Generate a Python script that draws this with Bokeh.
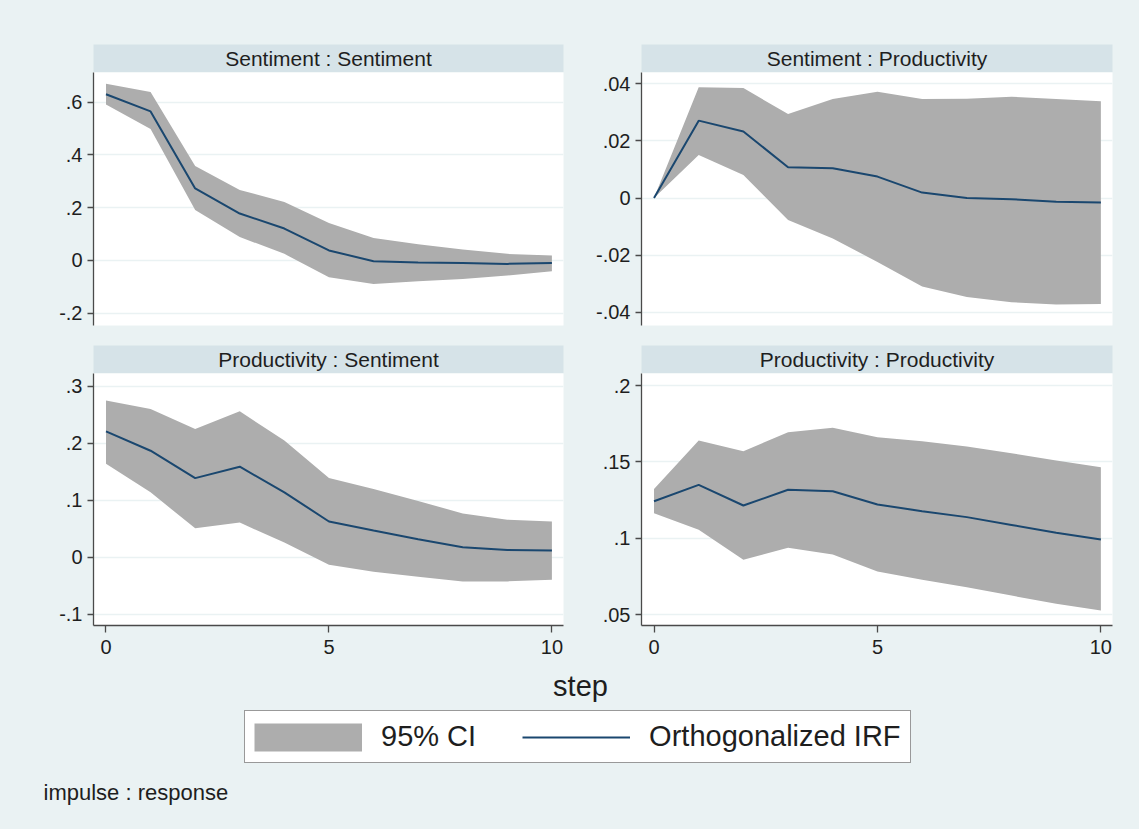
from bokeh.plotting import figure
from bokeh.layouts import column, row
from bokeh.models import (Range1d, FixedTicker, CustomJSTickFormatter, Label,
                          Legend, LegendItem)
from bokeh.embed import file_html
from bokeh.resources import INLINE

# ---------------- data ----------------
steps = [0, 1, 2, 3, 4, 5, 6, 7, 8, 9, 10]

ss_irf = [0.630, 0.565, 0.273, 0.178, 0.121, 0.038, -0.003, -0.008, -0.010, -0.013, -0.010]
ss_hi = [0.670, 0.639, 0.358, 0.267, 0.222, 0.142, 0.085, 0.061, 0.042, 0.025, 0.019]
ss_lo = [0.591, 0.498, 0.191, 0.089, 0.025, -0.064, -0.089, -0.079, -0.070, -0.057, -0.041]

sp_irf = [0.0, 0.0271, 0.0233, 0.0108, 0.0104, 0.0075, 0.0019, 0.0000, -0.0004, -0.0013, -0.0016]
sp_hi = [0.0, 0.0388, 0.0385, 0.0294, 0.0347, 0.0372, 0.0347, 0.0348, 0.0355, 0.0347, 0.0339]
sp_lo = [0.0, 0.0151, 0.0081, -0.0077, -0.0142, -0.0224, -0.0310, -0.0347, -0.0365, -0.0373, -0.0371]

ps_irf = [0.221, 0.187, 0.139, 0.159, 0.114, 0.063, 0.047, 0.032, 0.018, 0.013, 0.012]
ps_hi = [0.275, 0.260, 0.225, 0.256, 0.205, 0.139, 0.120, 0.099, 0.077, 0.066, 0.063]
ps_lo = [0.164, 0.114, 0.051, 0.061, 0.026, -0.013, -0.025, -0.034, -0.042, -0.042, -0.039]

pp_irf = [0.1242, 0.1349, 0.1214, 0.1317, 0.1308, 0.1221, 0.1177, 0.1138, 0.1087, 0.1035, 0.0991]
pp_hi = [0.1323, 0.1640, 0.1570, 0.1694, 0.1723, 0.1662, 0.1635, 0.1600, 0.1557, 0.1509, 0.1465]
pp_lo = [0.1164, 0.1055, 0.0858, 0.0937, 0.0893, 0.0782, 0.0727, 0.0679, 0.0624, 0.0570, 0.0526]

titles = ["Sentiment : Sentiment", "Sentiment : Productivity",
          "Productivity : Sentiment", "Productivity : Productivity"]
yticks_ss = [-0.2, 0, 0.2, 0.4, 0.6]
yticks_sp = [-0.04, -0.02, 0, 0.02, 0.04]
yticks_ps = [-0.1, 0, 0.1, 0.2, 0.3]
yticks_pp = [0.05, 0.1, 0.15, 0.2]
xticks = [0, 5, 10]
legend_labels = ["95% CI", "Orthogonalized IRF"]
xlabel = "step"
note = "impulse : response"

# ---------------- style ----------------
PAGE_BG = "#EAF2F3"
STRIP_BG = "#D6E3E8"
CI_COLOR = "#ADADAD"
LINE_COLOR = "#1A476F"
AXIS_COLOR = "#4A4A4A"
TEXT_COLOR = "#1E1E1E"
FONT = "Liberation Sans"
BG_STYLE = {"background-color": PAGE_BG}

fmt_code = """
var s = String(Math.round(tick*10000)/10000);
if (s.startsWith('0.')) { s = s.slice(1); }
else if (s.startsWith('-0.')) { s = '-' + s.slice(2); }
return s;
"""

LEFT_W, RIGHT_W = 588, 551
LEFT_B = (93, 25)
RIGHT_B = (53, 27)


def strip(title, width, borders, height, top):
    s = figure(width=width, height=height, output_backend="svg", toolbar_location=None,
               x_range=Range1d(0, 1), y_range=Range1d(0, 1),
               x_axis_location=None, y_axis_location=None,
               min_border_left=borders[0], min_border_right=borders[1],
               min_border_top=top, min_border_bottom=0)
    s.background_fill_color = STRIP_BG
    s.border_fill_color = PAGE_BG
    s.outline_line_color = None
    s.grid.visible = False
    s.add_layout(Label(x=0.5, y=0.5, text=title, text_align="center",
                       text_baseline="middle", text_font=FONT,
                       text_font_size="21px", text_color=TEXT_COLOR))
    return s


def panel(irf, lo, hi, yr, yt, width, borders, height, bottom, show_x):
    p = figure(width=width, height=height, output_backend="svg", toolbar_location=None,
               x_range=Range1d(-0.28, 10.26), y_range=Range1d(*yr),
               x_axis_location="below" if show_x else None,
               min_border_left=borders[0], min_border_right=borders[1],
               min_border_top=0, min_border_bottom=bottom)
    p.background_fill_color = "white"
    p.border_fill_color = PAGE_BG
    p.outline_line_color = None
    p.varea(x=steps, y1=lo, y2=hi, fill_color=CI_COLOR, fill_alpha=1.0)
    p.line(x=steps, y=irf, line_color=LINE_COLOR, line_width=2)
    p.xgrid.visible = False
    p.ygrid.ticker = FixedTicker(ticks=yt)
    p.ygrid.grid_line_color = PAGE_BG
    p.ygrid.grid_line_width = 1.5
    axes = list(p.yaxis) + (list(p.xaxis) if show_x else [])
    for ax in axes:
        ax.axis_line_color = AXIS_COLOR
        ax.axis_line_width = 1.3
        ax.major_tick_line_color = AXIS_COLOR
        ax.major_tick_line_width = 1.3
        ax.major_tick_in = 0
        ax.major_tick_out = 6
        ax.minor_tick_line_color = None
        ax.major_label_text_font = FONT
        ax.major_label_text_font_size = "20px"
        ax.major_label_text_color = TEXT_COLOR
        ax.major_label_standoff = 5
    p.yaxis.ticker = FixedTicker(ticks=yt)
    p.yaxis.formatter = CustomJSTickFormatter(code=fmt_code)
    if show_x:
        p.xaxis.ticker = FixedTicker(ticks=xticks)
        p.xaxis.major_tick_out = 7
        p.xaxis.major_label_standoff = 7
    return p


s1 = strip(titles[0], LEFT_W, LEFT_B, 72, 44)
s2 = strip(titles[1], RIGHT_W, RIGHT_B, 72, 44)
p1 = panel(ss_irf, ss_lo, ss_hi, (-0.2466, 0.7126), yticks_ss, LEFT_W, LEFT_B, 273, 20, False)
p2 = panel(sp_irf, sp_lo, sp_hi, (-0.04466, 0.04396), yticks_sp, RIGHT_W, RIGHT_B, 273, 20, False)
s3 = strip(titles[2], LEFT_W, LEFT_B, 28, 0)
s4 = strip(titles[3], RIGHT_W, RIGHT_B, 28, 0)
p3 = panel(ps_irf, ps_lo, ps_hi, (-0.1193, 0.3223), yticks_ps, LEFT_W, LEFT_B, 292, 40, True)
p4 = panel(pp_irf, pp_lo, pp_hi, (0.0428, 0.2079), yticks_pp, RIGHT_W, RIGHT_B, 292, 40, True)

# footer: x title, legend, note
FW, FH = LEFT_W + RIGHT_W, 164
f = figure(width=FW, height=FH, output_backend="svg", toolbar_location=None,
           x_range=Range1d(0, FW), y_range=Range1d(0, FH),
           x_axis_location=None, y_axis_location=None,
           min_border_left=0, min_border_right=0, min_border_top=0, min_border_bottom=0)
f.background_fill_color = PAGE_BG
f.border_fill_color = PAGE_BG
f.outline_line_color = None
f.grid.visible = False
# legend proxies (kept outside the visible range of the footer)
band_r = f.line(x=[-60, -50], y=[-60, -60], line_color=CI_COLOR, line_width=28)
line_r = f.line(x=[-60, -50], y=[-60, -60], line_color=LINE_COLOR, line_width=2)
leg = Legend(items=[LegendItem(label=legend_labels[0], renderers=[band_r]),
                    LegendItem(label=legend_labels[1], renderers=[line_r])],
             orientation="horizontal", location=(244, 66), margin=0,
             padding=9, spacing=46, label_standoff=19,
             glyph_width=108, glyph_height=32,
             label_text_font=FONT, label_text_font_size="29px",
             label_text_color=TEXT_COLOR, label_text_baseline="middle",
             border_line_color="#333333", border_line_width=1.5,
             background_fill_color="white", background_fill_alpha=1.0)
f.add_layout(leg, "center")
f.add_layout(Label(x=580, y=144, text=xlabel, text_align="center",
                   text_baseline="alphabetic", text_font=FONT,
                   text_font_size="29px", text_color=TEXT_COLOR))
f.add_layout(Label(x=43, y=37, text=note, text_align="left",
                   text_baseline="alphabetic", text_font=FONT,
                   text_font_size="22px", text_color=TEXT_COLOR))

layout = column(row(s1, s2, styles=BG_STYLE), row(p1, p2, styles=BG_STYLE),
                row(s3, s4, styles=BG_STYLE), row(p3, p4, styles=BG_STYLE), f,
                styles=BG_STYLE)

open("out.html", "w").write(file_html(layout, INLINE))
